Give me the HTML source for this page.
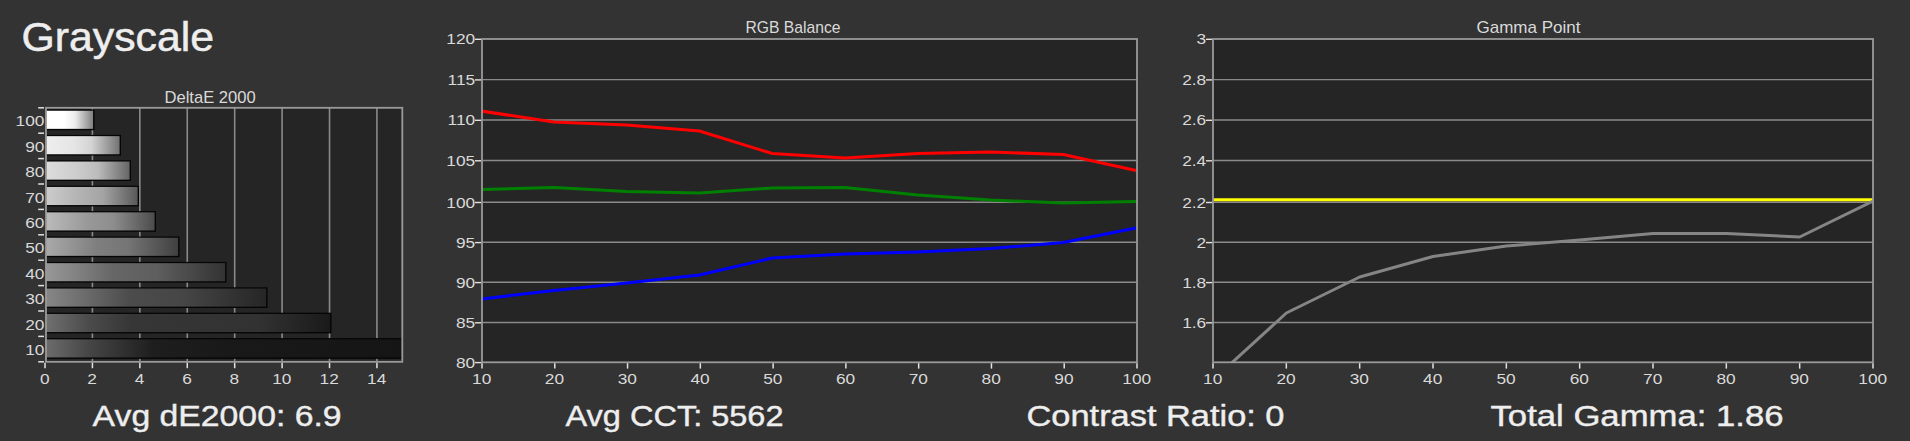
<!DOCTYPE html>
<html><head><meta charset="utf-8"><title>Grayscale</title>
<style>html,body{margin:0;padding:0;background:#333333;overflow:hidden}svg{display:block}text{font-family:"Liberation Sans", sans-serif}</style>
</head><body>
<svg width="1910" height="441" viewBox="0 0 1910 441">
<rect x="0" y="0" width="1910" height="441" fill="#333333"/>
<text x="21.5" y="50.9" font-size="40.3" fill="#eeeeee" text-anchor="start" textLength="192.5" lengthAdjust="spacingAndGlyphs" stroke="#eeeeee" stroke-width="0.5">Grayscale</text>
<text x="92.6" y="426.2" font-size="28.8" fill="#eeeeee" text-anchor="start" textLength="249" lengthAdjust="spacingAndGlyphs" stroke="#eeeeee" stroke-width="0.4">Avg dE2000: 6.9</text>
<text x="565.5" y="426.2" font-size="28.8" fill="#eeeeee" text-anchor="start" textLength="218" lengthAdjust="spacingAndGlyphs" stroke="#eeeeee" stroke-width="0.4">Avg CCT: 5562</text>
<text x="1026.5" y="426.2" font-size="28.8" fill="#eeeeee" text-anchor="start" textLength="258" lengthAdjust="spacingAndGlyphs" stroke="#eeeeee" stroke-width="0.4">Contrast Ratio: 0</text>
<text x="1490.5" y="426.2" font-size="28.8" fill="#eeeeee" text-anchor="start" textLength="293" lengthAdjust="spacingAndGlyphs" stroke="#eeeeee" stroke-width="0.4">Total Gamma: 1.86</text>
<text x="210.1" y="102.7" font-size="15.9" fill="#dadada" text-anchor="middle" textLength="91.3" lengthAdjust="spacingAndGlyphs" >DeltaE 2000</text>
<text x="793" y="32.7" font-size="15.9" fill="#dadada" text-anchor="middle" textLength="95" lengthAdjust="spacingAndGlyphs" >RGB Balance</text>
<text x="1528.5" y="32.7" font-size="15.9" fill="#dadada" text-anchor="middle" textLength="104" lengthAdjust="spacingAndGlyphs" >Gamma Point</text>
<rect x="46.0" y="107.8" width="356.3" height="254.0" fill="#252525"/>
<line x1="92.42" y1="107.8" x2="92.42" y2="361.8" stroke="#8a8a8a" stroke-width="1.6"/>
<line x1="139.84" y1="107.8" x2="139.84" y2="361.8" stroke="#8a8a8a" stroke-width="1.6"/>
<line x1="187.26" y1="107.8" x2="187.26" y2="361.8" stroke="#8a8a8a" stroke-width="1.6"/>
<line x1="234.68" y1="107.8" x2="234.68" y2="361.8" stroke="#8a8a8a" stroke-width="1.6"/>
<line x1="282.1" y1="107.8" x2="282.1" y2="361.8" stroke="#8a8a8a" stroke-width="1.6"/>
<line x1="329.52" y1="107.8" x2="329.52" y2="361.8" stroke="#8a8a8a" stroke-width="1.6"/>
<line x1="376.94" y1="107.8" x2="376.94" y2="361.8" stroke="#8a8a8a" stroke-width="1.6"/>
<defs>
<linearGradient id="g100" x1="0" y1="0" x2="1" y2="0"><stop offset="0" stop-color="#ffffff"/><stop offset="0.38" stop-color="#ffffff"/><stop offset="0.62" stop-color="#ebebeb"/><stop offset="1" stop-color="#7f7f7f"/></linearGradient>
<linearGradient id="g90" x1="0" y1="0" x2="1" y2="0"><stop offset="0" stop-color="#eeeeee"/><stop offset="0.38" stop-color="#e5e5e5"/><stop offset="0.62" stop-color="#d3d3d3"/><stop offset="1" stop-color="#737373"/></linearGradient>
<linearGradient id="g80" x1="0" y1="0" x2="1" y2="0"><stop offset="0" stop-color="#dddddd"/><stop offset="0.38" stop-color="#cccccc"/><stop offset="0.62" stop-color="#bcbcbc"/><stop offset="1" stop-color="#666666"/></linearGradient>
<linearGradient id="g70" x1="0" y1="0" x2="1" y2="0"><stop offset="0" stop-color="#cccccc"/><stop offset="0.38" stop-color="#b2b2b2"/><stop offset="0.62" stop-color="#a4a4a4"/><stop offset="1" stop-color="#595959"/></linearGradient>
<linearGradient id="g60" x1="0" y1="0" x2="1" y2="0"><stop offset="0" stop-color="#bbbbbb"/><stop offset="0.38" stop-color="#999999"/><stop offset="0.62" stop-color="#8d8d8d"/><stop offset="1" stop-color="#4c4c4c"/></linearGradient>
<linearGradient id="g50" x1="0" y1="0" x2="1" y2="0"><stop offset="0" stop-color="#aaaaaa"/><stop offset="0.38" stop-color="#7f7f7f"/><stop offset="0.62" stop-color="#757575"/><stop offset="1" stop-color="#404040"/></linearGradient>
<linearGradient id="g40" x1="0" y1="0" x2="1" y2="0"><stop offset="0" stop-color="#989898"/><stop offset="0.38" stop-color="#666666"/><stop offset="0.62" stop-color="#5e5e5e"/><stop offset="1" stop-color="#333333"/></linearGradient>
<linearGradient id="g30" x1="0" y1="0" x2="1" y2="0"><stop offset="0" stop-color="#878787"/><stop offset="0.38" stop-color="#4c4c4c"/><stop offset="0.62" stop-color="#464646"/><stop offset="1" stop-color="#262626"/></linearGradient>
<linearGradient id="g20" x1="0" y1="0" x2="1" y2="0"><stop offset="0" stop-color="#707070"/><stop offset="0.15" stop-color="#4b4b4b"/><stop offset="0.3" stop-color="#363636"/><stop offset="0.75" stop-color="#323232"/><stop offset="1" stop-color="#1a1a1a"/></linearGradient>
<linearGradient id="g10" x1="0" y1="0" x2="1" y2="0"><stop offset="0" stop-color="#6c6c6c"/><stop offset="0.12" stop-color="#464646"/><stop offset="0.3" stop-color="#1e1e1e"/><stop offset="0.5" stop-color="#191919"/><stop offset="1" stop-color="#151515"/></linearGradient>
</defs>
<rect x="46.0" y="109.5" width="48.5" height="20.7" fill="#050505"/>
<rect x="46.0" y="110.75" width="47.1" height="18.099999999999998" fill="url(#g100)"/>
<rect x="46.0" y="134.89999999999998" width="75.0" height="20.7" fill="#050505"/>
<rect x="46.0" y="136.14999999999998" width="73.6" height="18.099999999999998" fill="url(#g90)"/>
<rect x="46.0" y="160.29999999999998" width="85.0" height="20.7" fill="#050505"/>
<rect x="46.0" y="161.54999999999998" width="83.6" height="18.099999999999998" fill="url(#g80)"/>
<rect x="46.0" y="185.7" width="93.0" height="20.7" fill="#050505"/>
<rect x="46.0" y="186.95" width="91.6" height="18.099999999999998" fill="url(#g70)"/>
<rect x="46.0" y="211.09999999999997" width="110.0" height="20.7" fill="#050505"/>
<rect x="46.0" y="212.34999999999997" width="108.6" height="18.099999999999998" fill="url(#g60)"/>
<rect x="46.0" y="236.5" width="133.5" height="20.7" fill="#050505"/>
<rect x="46.0" y="237.75" width="132.1" height="18.099999999999998" fill="url(#g50)"/>
<rect x="46.0" y="261.9" width="180.5" height="20.7" fill="#050505"/>
<rect x="46.0" y="263.15" width="179.1" height="18.099999999999998" fill="url(#g40)"/>
<rect x="46.0" y="287.29999999999995" width="221.5" height="20.7" fill="#050505"/>
<rect x="46.0" y="288.54999999999995" width="220.1" height="18.099999999999998" fill="url(#g30)"/>
<rect x="46.0" y="312.7" width="285.5" height="20.7" fill="#050505"/>
<rect x="46.0" y="313.95" width="284.1" height="18.099999999999998" fill="url(#g20)"/>
<rect x="46.0" y="338.09999999999997" width="356.3" height="20.7" fill="#050505"/>
<rect x="46.0" y="339.34999999999997" width="356.3" height="18.099999999999998" fill="url(#g10)"/>
<rect x="46.0" y="107.8" width="356.3" height="254.0" fill="none" stroke="#9a9a9a" stroke-width="1.8"/>
<line x1="38.2" y1="107.8" x2="44.0" y2="107.8" stroke="#e2e2e2" stroke-width="1.5"/>
<line x1="38.2" y1="133.2" x2="44.0" y2="133.2" stroke="#e2e2e2" stroke-width="1.5"/>
<line x1="38.2" y1="158.6" x2="44.0" y2="158.6" stroke="#e2e2e2" stroke-width="1.5"/>
<line x1="38.2" y1="184.0" x2="44.0" y2="184.0" stroke="#e2e2e2" stroke-width="1.5"/>
<line x1="38.2" y1="209.39999999999998" x2="44.0" y2="209.39999999999998" stroke="#e2e2e2" stroke-width="1.5"/>
<line x1="38.2" y1="234.8" x2="44.0" y2="234.8" stroke="#e2e2e2" stroke-width="1.5"/>
<line x1="38.2" y1="260.2" x2="44.0" y2="260.2" stroke="#e2e2e2" stroke-width="1.5"/>
<line x1="38.2" y1="285.59999999999997" x2="44.0" y2="285.59999999999997" stroke="#e2e2e2" stroke-width="1.5"/>
<line x1="38.2" y1="311.0" x2="44.0" y2="311.0" stroke="#e2e2e2" stroke-width="1.5"/>
<line x1="38.2" y1="336.4" x2="44.0" y2="336.4" stroke="#e2e2e2" stroke-width="1.5"/>
<line x1="38.2" y1="361.8" x2="44.0" y2="361.8" stroke="#e2e2e2" stroke-width="1.5"/>
<text transform="translate(44.5,126.4) scale(1.17,1)" font-size="14.8" fill="#dadada" text-anchor="end">100</text>
<text transform="translate(44.5,151.79999999999998) scale(1.17,1)" font-size="14.8" fill="#dadada" text-anchor="end">90</text>
<text transform="translate(44.5,177.2) scale(1.17,1)" font-size="14.8" fill="#dadada" text-anchor="end">80</text>
<text transform="translate(44.5,202.6) scale(1.17,1)" font-size="14.8" fill="#dadada" text-anchor="end">70</text>
<text transform="translate(44.5,227.99999999999997) scale(1.17,1)" font-size="14.8" fill="#dadada" text-anchor="end">60</text>
<text transform="translate(44.5,253.4) scale(1.17,1)" font-size="14.8" fill="#dadada" text-anchor="end">50</text>
<text transform="translate(44.5,278.79999999999995) scale(1.17,1)" font-size="14.8" fill="#dadada" text-anchor="end">40</text>
<text transform="translate(44.5,304.19999999999993) scale(1.17,1)" font-size="14.8" fill="#dadada" text-anchor="end">30</text>
<text transform="translate(44.5,329.59999999999997) scale(1.17,1)" font-size="14.8" fill="#dadada" text-anchor="end">20</text>
<text transform="translate(44.5,354.99999999999994) scale(1.17,1)" font-size="14.8" fill="#dadada" text-anchor="end">10</text>
<line x1="45.0" y1="362.7" x2="45.0" y2="368.2" stroke="#e2e2e2" stroke-width="1.5"/>
<text transform="translate(44.7,384) scale(1.17,1)" font-size="14.8" fill="#dadada" text-anchor="middle">0</text>
<line x1="92.42" y1="362.7" x2="92.42" y2="368.2" stroke="#e2e2e2" stroke-width="1.5"/>
<text transform="translate(92.12,384) scale(1.17,1)" font-size="14.8" fill="#dadada" text-anchor="middle">2</text>
<line x1="139.84" y1="362.7" x2="139.84" y2="368.2" stroke="#e2e2e2" stroke-width="1.5"/>
<text transform="translate(139.54,384) scale(1.17,1)" font-size="14.8" fill="#dadada" text-anchor="middle">4</text>
<line x1="187.26" y1="362.7" x2="187.26" y2="368.2" stroke="#e2e2e2" stroke-width="1.5"/>
<text transform="translate(186.95999999999998,384) scale(1.17,1)" font-size="14.8" fill="#dadada" text-anchor="middle">6</text>
<line x1="234.68" y1="362.7" x2="234.68" y2="368.2" stroke="#e2e2e2" stroke-width="1.5"/>
<text transform="translate(234.38,384) scale(1.17,1)" font-size="14.8" fill="#dadada" text-anchor="middle">8</text>
<line x1="282.1" y1="362.7" x2="282.1" y2="368.2" stroke="#e2e2e2" stroke-width="1.5"/>
<text transform="translate(281.8,384) scale(1.17,1)" font-size="14.8" fill="#dadada" text-anchor="middle">10</text>
<line x1="329.52" y1="362.7" x2="329.52" y2="368.2" stroke="#e2e2e2" stroke-width="1.5"/>
<text transform="translate(329.21999999999997,384) scale(1.17,1)" font-size="14.8" fill="#dadada" text-anchor="middle">12</text>
<line x1="376.94" y1="362.7" x2="376.94" y2="368.2" stroke="#e2e2e2" stroke-width="1.5"/>
<text transform="translate(376.64,384) scale(1.17,1)" font-size="14.8" fill="#dadada" text-anchor="middle">14</text>
<rect x="482" y="39" width="655" height="323.3" fill="#252525"/>
<line x1="482" y1="79.6" x2="1137" y2="79.6" stroke="#8a8a8a" stroke-width="1.4"/>
<line x1="482" y1="120.0" x2="1137" y2="120.0" stroke="#8a8a8a" stroke-width="1.4"/>
<line x1="482" y1="160.5" x2="1137" y2="160.5" stroke="#8a8a8a" stroke-width="1.4"/>
<line x1="482" y1="202.2" x2="1137" y2="202.2" stroke="#8a8a8a" stroke-width="1.4"/>
<line x1="482" y1="242.3" x2="1137" y2="242.3" stroke="#8a8a8a" stroke-width="1.4"/>
<line x1="482" y1="282.3" x2="1137" y2="282.3" stroke="#8a8a8a" stroke-width="1.4"/>
<line x1="482" y1="322.5" x2="1137" y2="322.5" stroke="#8a8a8a" stroke-width="1.4"/>
<clipPath id="cp482"><rect x="482" y="39" width="655" height="323.3"/></clipPath>
<polyline clip-path="url(#cp482)" fill="none" stroke="#ff0000" stroke-width="3" stroke-linejoin="round" points="481.1,111 553.8777777777777,122 626.6555555555556,125 699.4333333333334,131 772.2111111111111,153.5 844.9888888888889,158 917.7666666666667,153.5 990.5444444444445,152 1063.322222222222,154.5 1136.1,170.5"/>
<polyline clip-path="url(#cp482)" fill="none" stroke="#008000" stroke-width="3" stroke-linejoin="round" points="481.1,189.5 553.8777777777777,187.5 626.6555555555556,191.5 699.4333333333334,193 772.2111111111111,188 844.9888888888889,187.5 917.7666666666667,195 990.5444444444445,200 1063.322222222222,203 1136.1,201.5"/>
<polyline clip-path="url(#cp482)" fill="none" stroke="#0000ff" stroke-width="3" stroke-linejoin="round" points="481.1,299 553.8777777777777,290.5 626.6555555555556,283 699.4333333333334,275 772.2111111111111,258 844.9888888888889,254 917.7666666666667,252 990.5444444444445,248.5 1063.322222222222,242.5 1136.1,228"/>
<rect x="482" y="39" width="655" height="323.3" fill="none" stroke="#9a9a9a" stroke-width="1.8"/>
<line x1="475" y1="39.3" x2="481.1" y2="39.3" stroke="#e2e2e2" stroke-width="1.4"/>
<text transform="translate(475.2,44.3) scale(1.17,1)" font-size="14.8" fill="#dadada" text-anchor="end">120</text>
<line x1="475" y1="79.89999999999999" x2="481.1" y2="79.89999999999999" stroke="#e2e2e2" stroke-width="1.4"/>
<text transform="translate(475.2,84.89999999999999) scale(1.17,1)" font-size="14.8" fill="#dadada" text-anchor="end">115</text>
<line x1="475" y1="120.3" x2="481.1" y2="120.3" stroke="#e2e2e2" stroke-width="1.4"/>
<text transform="translate(475.2,125.3) scale(1.17,1)" font-size="14.8" fill="#dadada" text-anchor="end">110</text>
<line x1="475" y1="160.8" x2="481.1" y2="160.8" stroke="#e2e2e2" stroke-width="1.4"/>
<text transform="translate(475.2,165.8) scale(1.17,1)" font-size="14.8" fill="#dadada" text-anchor="end">105</text>
<line x1="475" y1="202.5" x2="481.1" y2="202.5" stroke="#e2e2e2" stroke-width="1.4"/>
<text transform="translate(475.2,207.5) scale(1.17,1)" font-size="14.8" fill="#dadada" text-anchor="end">100</text>
<line x1="475" y1="242.60000000000002" x2="481.1" y2="242.60000000000002" stroke="#e2e2e2" stroke-width="1.4"/>
<text transform="translate(475.2,247.60000000000002) scale(1.17,1)" font-size="14.8" fill="#dadada" text-anchor="end">95</text>
<line x1="475" y1="282.6" x2="481.1" y2="282.6" stroke="#e2e2e2" stroke-width="1.4"/>
<text transform="translate(475.2,287.6) scale(1.17,1)" font-size="14.8" fill="#dadada" text-anchor="end">90</text>
<line x1="475" y1="322.8" x2="481.1" y2="322.8" stroke="#e2e2e2" stroke-width="1.4"/>
<text transform="translate(475.2,327.8) scale(1.17,1)" font-size="14.8" fill="#dadada" text-anchor="end">85</text>
<line x1="475" y1="362.6" x2="481.1" y2="362.6" stroke="#e2e2e2" stroke-width="1.4"/>
<text transform="translate(475.2,367.6) scale(1.17,1)" font-size="14.8" fill="#dadada" text-anchor="end">80</text>
<line x1="482.0" y1="363.2" x2="482.0" y2="368.6" stroke="#e2e2e2" stroke-width="1.5"/>
<text transform="translate(481.7,384) scale(1.17,1)" font-size="14.8" fill="#dadada" text-anchor="middle">10</text>
<line x1="554.7777777777778" y1="363.2" x2="554.7777777777778" y2="368.6" stroke="#e2e2e2" stroke-width="1.5"/>
<text transform="translate(554.4777777777779,384) scale(1.17,1)" font-size="14.8" fill="#dadada" text-anchor="middle">20</text>
<line x1="627.5555555555555" y1="363.2" x2="627.5555555555555" y2="368.6" stroke="#e2e2e2" stroke-width="1.5"/>
<text transform="translate(627.2555555555556,384) scale(1.17,1)" font-size="14.8" fill="#dadada" text-anchor="middle">30</text>
<line x1="700.3333333333334" y1="363.2" x2="700.3333333333334" y2="368.6" stroke="#e2e2e2" stroke-width="1.5"/>
<text transform="translate(700.0333333333334,384) scale(1.17,1)" font-size="14.8" fill="#dadada" text-anchor="middle">40</text>
<line x1="773.1111111111111" y1="363.2" x2="773.1111111111111" y2="368.6" stroke="#e2e2e2" stroke-width="1.5"/>
<text transform="translate(772.8111111111111,384) scale(1.17,1)" font-size="14.8" fill="#dadada" text-anchor="middle">50</text>
<line x1="845.8888888888889" y1="363.2" x2="845.8888888888889" y2="368.6" stroke="#e2e2e2" stroke-width="1.5"/>
<text transform="translate(845.588888888889,384) scale(1.17,1)" font-size="14.8" fill="#dadada" text-anchor="middle">60</text>
<line x1="918.6666666666667" y1="363.2" x2="918.6666666666667" y2="368.6" stroke="#e2e2e2" stroke-width="1.5"/>
<text transform="translate(918.3666666666668,384) scale(1.17,1)" font-size="14.8" fill="#dadada" text-anchor="middle">70</text>
<line x1="991.4444444444445" y1="363.2" x2="991.4444444444445" y2="368.6" stroke="#e2e2e2" stroke-width="1.5"/>
<text transform="translate(991.1444444444445,384) scale(1.17,1)" font-size="14.8" fill="#dadada" text-anchor="middle">80</text>
<line x1="1064.2222222222222" y1="363.2" x2="1064.2222222222222" y2="368.6" stroke="#e2e2e2" stroke-width="1.5"/>
<text transform="translate(1063.9222222222222,384) scale(1.17,1)" font-size="14.8" fill="#dadada" text-anchor="middle">90</text>
<line x1="1137.0" y1="363.2" x2="1137.0" y2="368.6" stroke="#e2e2e2" stroke-width="1.5"/>
<text transform="translate(1136.7,384) scale(1.17,1)" font-size="14.8" fill="#dadada" text-anchor="middle">100</text>
<rect x="1213" y="39" width="660" height="323.3" fill="#252525"/>
<line x1="1213" y1="79.6" x2="1873" y2="79.6" stroke="#8a8a8a" stroke-width="1.4"/>
<line x1="1213" y1="120.0" x2="1873" y2="120.0" stroke="#8a8a8a" stroke-width="1.4"/>
<line x1="1213" y1="160.5" x2="1873" y2="160.5" stroke="#8a8a8a" stroke-width="1.4"/>
<line x1="1213" y1="202.2" x2="1873" y2="202.2" stroke="#8a8a8a" stroke-width="1.4"/>
<line x1="1213" y1="242.3" x2="1873" y2="242.3" stroke="#8a8a8a" stroke-width="1.4"/>
<line x1="1213" y1="282.3" x2="1873" y2="282.3" stroke="#8a8a8a" stroke-width="1.4"/>
<line x1="1213" y1="322.5" x2="1873" y2="322.5" stroke="#8a8a8a" stroke-width="1.4"/>
<clipPath id="cp1213"><rect x="1213" y="39" width="660" height="323.3"/></clipPath>
<polyline clip-path="url(#cp1213)" fill="none" stroke="#ffff00" stroke-width="3" stroke-linejoin="round" points="1213,199.7 1873,199.7"/>
<polyline clip-path="url(#cp1213)" fill="none" stroke="#858585" stroke-width="3" stroke-linejoin="round" points="1213.0,380 1286.3333333333333,313 1359.6666666666667,277 1433.0,256.5 1506.3333333333333,246 1579.6666666666667,240 1653.0,233.5 1726.3333333333335,233.5 1799.6666666666665,237 1873.0,201"/>
<rect x="1213" y="39" width="660" height="323.3" fill="none" stroke="#9a9a9a" stroke-width="1.8"/>
<line x1="1206" y1="39.3" x2="1212.1" y2="39.3" stroke="#e2e2e2" stroke-width="1.4"/>
<text transform="translate(1206.2,44.3) scale(1.17,1)" font-size="14.8" fill="#dadada" text-anchor="end">3</text>
<line x1="1206" y1="79.89999999999999" x2="1212.1" y2="79.89999999999999" stroke="#e2e2e2" stroke-width="1.4"/>
<text transform="translate(1206.2,84.89999999999999) scale(1.17,1)" font-size="14.8" fill="#dadada" text-anchor="end">2.8</text>
<line x1="1206" y1="120.3" x2="1212.1" y2="120.3" stroke="#e2e2e2" stroke-width="1.4"/>
<text transform="translate(1206.2,125.3) scale(1.17,1)" font-size="14.8" fill="#dadada" text-anchor="end">2.6</text>
<line x1="1206" y1="160.8" x2="1212.1" y2="160.8" stroke="#e2e2e2" stroke-width="1.4"/>
<text transform="translate(1206.2,165.8) scale(1.17,1)" font-size="14.8" fill="#dadada" text-anchor="end">2.4</text>
<line x1="1206" y1="202.5" x2="1212.1" y2="202.5" stroke="#e2e2e2" stroke-width="1.4"/>
<text transform="translate(1206.2,207.5) scale(1.17,1)" font-size="14.8" fill="#dadada" text-anchor="end">2.2</text>
<line x1="1206" y1="242.60000000000002" x2="1212.1" y2="242.60000000000002" stroke="#e2e2e2" stroke-width="1.4"/>
<text transform="translate(1206.2,247.60000000000002) scale(1.17,1)" font-size="14.8" fill="#dadada" text-anchor="end">2</text>
<line x1="1206" y1="282.6" x2="1212.1" y2="282.6" stroke="#e2e2e2" stroke-width="1.4"/>
<text transform="translate(1206.2,287.6) scale(1.17,1)" font-size="14.8" fill="#dadada" text-anchor="end">1.8</text>
<line x1="1206" y1="322.8" x2="1212.1" y2="322.8" stroke="#e2e2e2" stroke-width="1.4"/>
<text transform="translate(1206.2,327.8) scale(1.17,1)" font-size="14.8" fill="#dadada" text-anchor="end">1.6</text>
<line x1="1213.0" y1="363.2" x2="1213.0" y2="368.6" stroke="#e2e2e2" stroke-width="1.5"/>
<text transform="translate(1212.7,384) scale(1.17,1)" font-size="14.8" fill="#dadada" text-anchor="middle">10</text>
<line x1="1286.3333333333333" y1="363.2" x2="1286.3333333333333" y2="368.6" stroke="#e2e2e2" stroke-width="1.5"/>
<text transform="translate(1286.0333333333333,384) scale(1.17,1)" font-size="14.8" fill="#dadada" text-anchor="middle">20</text>
<line x1="1359.6666666666667" y1="363.2" x2="1359.6666666666667" y2="368.6" stroke="#e2e2e2" stroke-width="1.5"/>
<text transform="translate(1359.3666666666668,384) scale(1.17,1)" font-size="14.8" fill="#dadada" text-anchor="middle">30</text>
<line x1="1433.0" y1="363.2" x2="1433.0" y2="368.6" stroke="#e2e2e2" stroke-width="1.5"/>
<text transform="translate(1432.7,384) scale(1.17,1)" font-size="14.8" fill="#dadada" text-anchor="middle">40</text>
<line x1="1506.3333333333333" y1="363.2" x2="1506.3333333333333" y2="368.6" stroke="#e2e2e2" stroke-width="1.5"/>
<text transform="translate(1506.0333333333333,384) scale(1.17,1)" font-size="14.8" fill="#dadada" text-anchor="middle">50</text>
<line x1="1579.6666666666667" y1="363.2" x2="1579.6666666666667" y2="368.6" stroke="#e2e2e2" stroke-width="1.5"/>
<text transform="translate(1579.3666666666668,384) scale(1.17,1)" font-size="14.8" fill="#dadada" text-anchor="middle">60</text>
<line x1="1653.0" y1="363.2" x2="1653.0" y2="368.6" stroke="#e2e2e2" stroke-width="1.5"/>
<text transform="translate(1652.7,384) scale(1.17,1)" font-size="14.8" fill="#dadada" text-anchor="middle">70</text>
<line x1="1726.3333333333335" y1="363.2" x2="1726.3333333333335" y2="368.6" stroke="#e2e2e2" stroke-width="1.5"/>
<text transform="translate(1726.0333333333335,384) scale(1.17,1)" font-size="14.8" fill="#dadada" text-anchor="middle">80</text>
<line x1="1799.6666666666665" y1="363.2" x2="1799.6666666666665" y2="368.6" stroke="#e2e2e2" stroke-width="1.5"/>
<text transform="translate(1799.3666666666666,384) scale(1.17,1)" font-size="14.8" fill="#dadada" text-anchor="middle">90</text>
<line x1="1873.0" y1="363.2" x2="1873.0" y2="368.6" stroke="#e2e2e2" stroke-width="1.5"/>
<text transform="translate(1872.7,384) scale(1.17,1)" font-size="14.8" fill="#dadada" text-anchor="middle">100</text>
</svg></body></html>
